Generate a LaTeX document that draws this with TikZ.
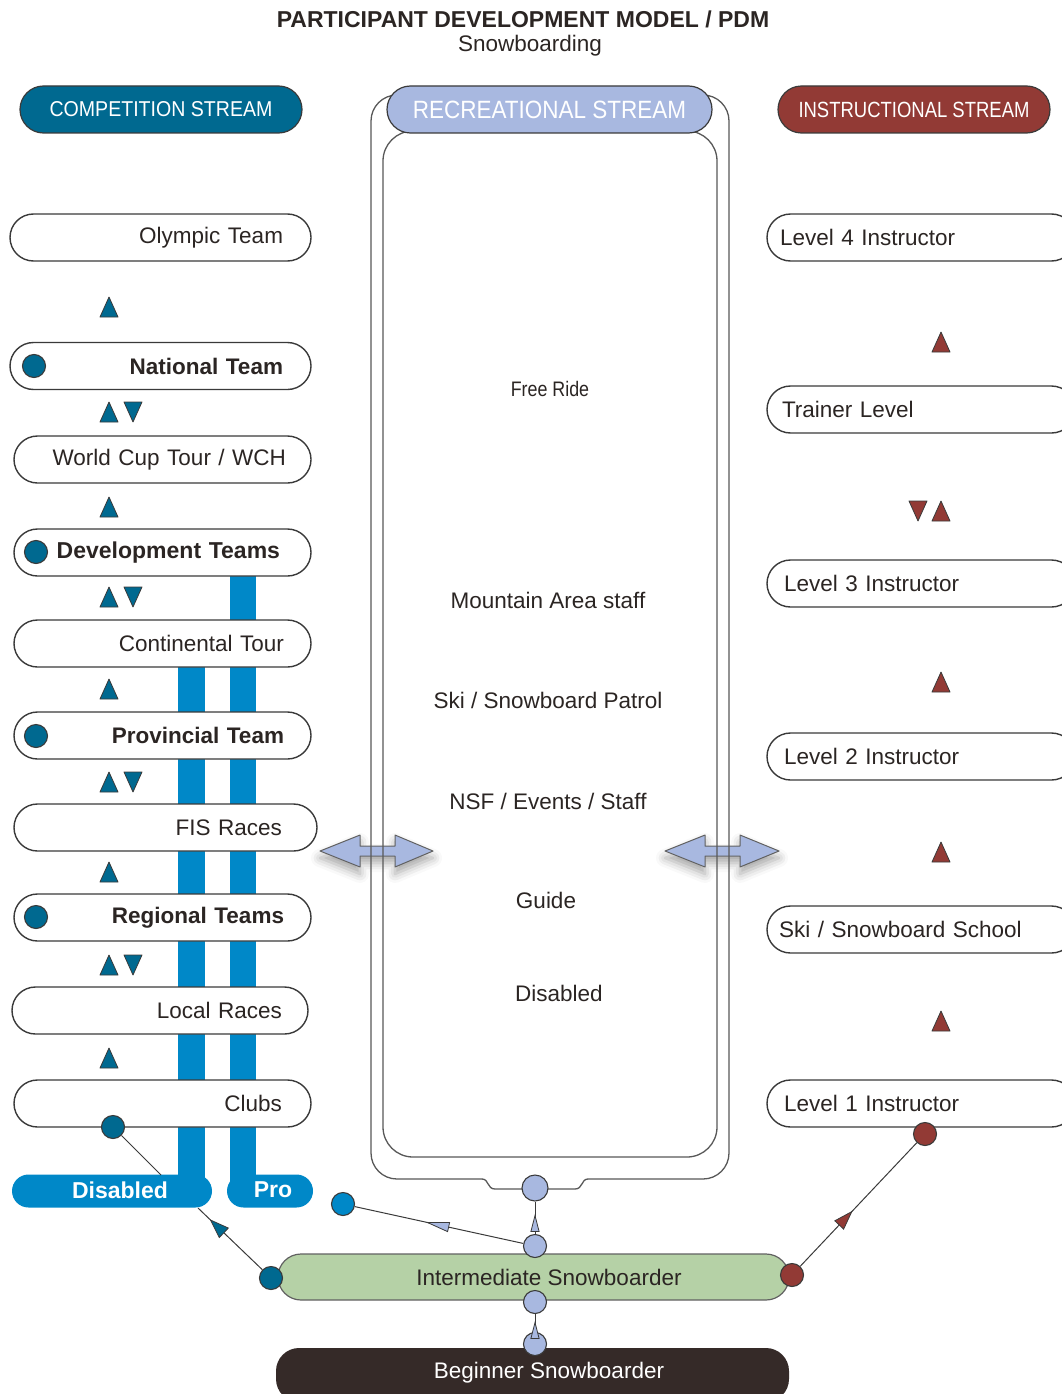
\documentclass[tikz,border=0pt]{standalone}
\usepackage{fontspec}
\setmainfont{Liberation Sans}
\usetikzlibrary{arrows.meta,decorations.markings,shadows.blur}

\definecolor{compteal}{HTML}{006990}
\definecolor{recblue}{HTML}{A8B8E0}
\definecolor{instred}{HTML}{923A35}
\definecolor{barblue}{HTML}{0088C8}
\definecolor{intgreen}{HTML}{B5D1A6}
\definecolor{begdark}{HTML}{352A28}
\definecolor{edge}{HTML}{3A3A3A}
\definecolor{txt}{HTML}{2B2523}

\newcommand\fsz[1]{\fontsize{#1}{#1}\selectfont}

\tikzset{
  pill/.style={draw=edge, line width=1.4pt, fill=white, rounded corners=23.5pt,
    minimum height=47pt, inner ysep=0pt, text=txt, font=\fsz{22.5}},
  lpill/.style 2 args={pill, minimum width=#1, text width=#2, inner xsep=0pt, align=right},
  rpill/.style={pill, minimum width=308, text width=#1, inner xsep=0pt, align=left},
  streamhdr/.style={draw=edge, line width=1.2pt, rounded corners=23.5pt,
    minimum height=47pt, inner sep=0pt, text=white},
  dot/.style={circle, draw=edge, line width=1.1pt, minimum size=23pt, inner sep=0pt, fill=#1},
  lbl/.style={text=txt, font=\fsz{22.5}, inner sep=0pt},
  boxline/.style={draw=edge!85, line width=1.3pt},
  conn/.style={draw=edge, line width=1pt},
  midarrow/.style n args={4}{postaction={decorate}, decoration={markings,
    mark=at position #1 with {\arrow{Triangle[width=#3,length=#4,fill=#2,line width=0.8pt]}}}},
  dblarrow/.style={fill=recblue, draw=edge!80, line width=1pt,
    blur shadow={shadow xshift=0pt, shadow yshift=-7pt, shadow blur radius=9pt, shadow opacity=35}},
  pics/triup/.style={code={\filldraw[draw=edge, line width=0.8pt, fill=#1] (-9,10) -- (9,10) -- (0,-10) -- cycle;}},
  pics/tridown/.style={code={\filldraw[draw=edge, line width=0.8pt, fill=#1] (-9,-10) -- (9,-10) -- (0,10) -- cycle;}},
}

\begin{document}
\begin{tikzpicture}[x=1pt,y=-1pt,line join=round]
\useasboundingbox (0,0) rectangle (1062,1394);
\clip (0,0) rectangle (1062,1394);

% title
\node[lbl, font=\bfseries\fsz{23}] (title) at (523,19) {PARTICIPANT DEVELOPMENT MODEL / PDM};
\node[lbl] (subtitle) at (530,46) {Snowboarding};

% blue bars
\fill[barblue] (178,650) rectangle (205,1192);
\fill[barblue] (230,560) rectangle (256,1192);

% double arrows
\filldraw[dblarrow] (320,851) -- (360,835) -- (360,846) -- (395,846) -- (395,835) -- (433,851)
  -- (395,867) -- (395,856) -- (360,856) -- (360,867) -- cycle;
\filldraw[dblarrow] (665,851) -- (705,835) -- (705,846) -- (740,846) -- (740,835) -- (779,851)
  -- (740,867) -- (740,856) -- (705,856) -- (705,867) -- cycle;

% central double box
\draw[boxline, rounded corners=26pt] (588,1179) -- (729,1179) -- (729,95) -- (371,95)
  -- (371,1179) -- (482,1179);
\draw[boxline] (588,1179) .. controls (581,1179) and (583,1189) .. (575,1189) -- (495,1189)
  .. controls (487,1189) and (489,1179) .. (482,1179);
\draw[boxline, rounded corners=30pt] (383,131) rectangle (717,1157);

% stream headers
\node[streamhdr, fill=compteal, minimum width=282] (comp) at (161,109.5)
  {\scalebox{0.91}[1]{\fsz{21.5}COMPETITION STREAM}};
\node[streamhdr, fill=recblue, minimum width=325] (rec) at (549.5,109.5)
  {\scalebox{0.9}[1]{\fsz{25}RECREATIONAL STREAM}};
\node[streamhdr, fill=instred, minimum width=272] (inst) at (914,109.5)
  {\scalebox{0.84}[1]{\fsz{22}INSTRUCTIONAL STREAM}};

% competition stream pills
\node[lpill={301}{245}] (olympic) at (160.5,237.5) {Olympic Team};
\node[lpill={301}{245}, font=\bfseries\fsz{22.5}] (national) at (160.5,366) {National Team};
\node[lpill={297}{247}] (worldcup) at (162.5,459.5) {World Cup Tour / WCH};
\node[lpill={297}{235}, font=\bfseries\fsz{23}] (devteams) at (162.5,552.5) {Development Teams};
\node[lpill={297}{243}] (continental) at (162.5,643.5) {Continental Tour};
\node[lpill={297}{243}, font=\bfseries\fsz{22.5}] (provincial) at (162.5,735.5) {Provincial Team};
\node[lpill={303}{233}] (fis) at (165.5,827.5) {FIS Races};
\node[lpill={297}{243}, font=\bfseries\fsz{22.5}] (regional) at (162.5,917.5) {Regional Teams};
\node[lpill={296}{244}] (local) at (160,1010.5) {Local Races};
\node[lpill={297}{239}] (clubs) at (162.5,1103.5) {Clubs};

\node[dot=compteal] (natdot) at (34,366) {};
\node[dot=compteal] (devdot) at (36,552) {};
\node[dot=compteal] (provdot) at (36,736) {};
\node[dot=compteal] (regdot) at (36,917) {};
\node[dot=compteal] (clubsdot) at (113,1127) {};

% disabled / pro
\node[fill=barblue, rounded corners=16.5pt, minimum width=200, minimum height=33, inner sep=0pt] (disabled) at (112,1191) {};
\node[text=white, font=\bfseries\fsz{23}, inner sep=0pt] (disabledtxt) at (120,1190) {Disabled};
\node[fill=barblue, rounded corners=16.5pt, minimum width=86, minimum height=33, inner sep=0pt] (pro) at (270,1191) {};
\node[text=white, font=\bfseries\fsz{23}, inner sep=0pt] (protxt) at (273,1190) {Pro};

% competition triangles
\pic at (109,307) {triup=compteal};
\pic at (109,412) {triup=compteal};
\pic at (133,412) {tridown=compteal};
\pic at (109,507) {triup=compteal};
\pic at (109,597) {triup=compteal};
\pic at (133,597) {tridown=compteal};
\pic at (109,689) {triup=compteal};
\pic at (109,782) {triup=compteal};
\pic at (133,782) {tridown=compteal};
\pic at (109,872) {triup=compteal};
\pic at (109,965) {triup=compteal};
\pic at (133,965) {tridown=compteal};
\pic at (109,1058) {triup=compteal};

% recreational texts
\node[lbl, font=\fsz{21}] (freeride) at (550,389) {\scalebox{0.85}[1]{Free Ride}};
\node[lbl] (mountain) at (548,600) {Mountain Area staff};
\node[lbl] (patrol) at (548,700) {Ski / Snowboard Patrol};
\node[lbl] (nsf) at (548,801) {NSF / Events / Staff};
\node[lbl] (guide) at (546,900) {Guide};
\node[lbl] (cdisabled) at (559,993) {Disabled};

% instructional stream pills
\node[rpill=282] (lvl4) at (921,237.5) {Level 4 Instructor};
\node[rpill=278] (trainer) at (921,409.5) {Trainer Level};
\node[rpill=274] (lvl3) at (921,583.5) {Level 3 Instructor};
\node[rpill=274] (lvl2) at (921,756.5) {Level 2 Instructor};
\node[rpill=284] (school) at (921,929.5) {Ski / Snowboard School};
\node[rpill=274] (lvl1) at (921,1103.5) {Level 1 Instructor};

\pic at (941,342) {triup=instred};
\pic at (918,511) {tridown=instred};
\pic at (941,511) {triup=instred};
\pic at (941,682) {triup=instred};
\pic at (941,852) {triup=instred};
\pic at (941,1021) {triup=instred};

% bottom levels
\node[fill=begdark, rounded corners=23pt, minimum width=513, minimum height=54, inner sep=0pt] (beginner) at (532.5,1375) {};
\node[text=white, font=\fsz{22.5}, inner sep=0pt] (begtxt) at (549,1373) {Beginner Snowboarder};
\node[fill=intgreen, draw=edge!80, line width=1.2pt, rounded corners=23pt, minimum width=511, minimum height=46, inner sep=0pt] (intermediate) at (533.5,1277) {};
\node[lbl] (inttxt) at (549,1277) {Intermediate Snowboarder};

% dots
\node[dot=recblue, minimum size=26pt] (notch) at (535,1188) {};
\node[dot=recblue] (midtop) at (535,1246) {};
\node[dot=recblue] (intbot) at (535,1302) {};
\node[dot=recblue] (begdot) at (535,1344) {};
\node[dot=barblue] (bluedot) at (343,1204) {};
\node[dot=compteal] (intl) at (271,1278) {};
\node[dot=instred] (intr) at (792,1275) {};
\node[dot=instred] (l1dot) at (925,1134) {};

% connectors
\coordinate (dtop) at (161,1175);
\coordinate (dbot) at (198,1208);
\draw[conn] (clubsdot) -- (dtop);
\draw[conn, midarrow={0.82}{compteal}{14pt}{20pt}] (intl) -- (dbot);
\draw[conn, midarrow={0.58}{recblue}{10pt}{24pt}] (midtop) -- (bluedot);
\draw[conn, midarrow={0.62}{recblue}{9pt}{18pt}] (midtop) -- (notch);
\draw[conn, midarrow={0.62}{recblue}{9pt}{18pt}] (begdot) -- (intbot);
\draw[conn, midarrow={0.45}{instred}{13pt}{20pt}] (intr) -- (l1dot);
\end{tikzpicture}
\end{document}
